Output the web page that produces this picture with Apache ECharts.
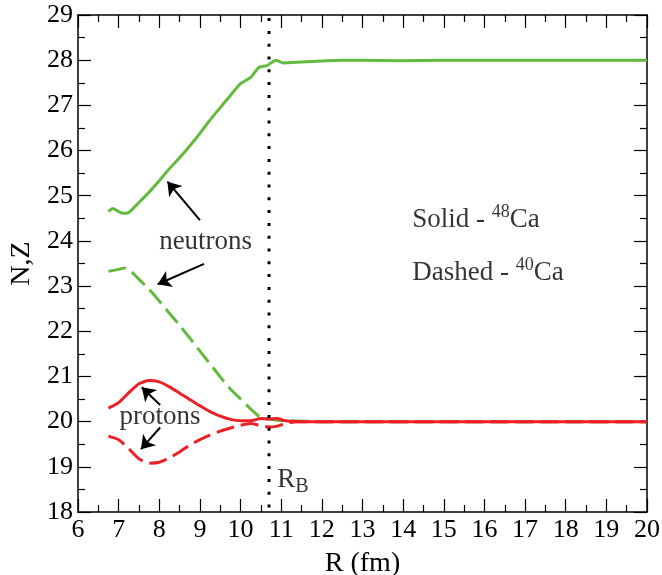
<!DOCTYPE html>
<html>
<head>
<meta charset="utf-8">
<script src="https://cdn.jsdelivr.net/npm/echarts@6/dist/echarts.min.js"></script>
<style>
html, body { margin: 0; padding: 0; background: #fff; }
#main { width: 662px; height: 575px; }
</style>
</head>
<body>
<div id="main"></div>
<script>
// 48Ca neutrons (solid green)
var nx48 = [6.75, 6.85, 7.0, 7.1, 7.25, 7.5, 7.75, 8.0, 8.25, 8.5, 8.75, 9.0, 9.25, 9.5, 9.75, 10.0, 10.25, 10.45, 10.65, 10.87, 11.05, 11.5, 12.0, 12.5, 13.0, 14, 15, 16, 17, 18, 19, 20];
var ny48 = [24.65, 24.72, 24.65, 24.61, 24.63, 24.85, 25.08, 25.33, 25.6, 25.84, 26.1, 26.38, 26.68, 26.95, 27.22, 27.48, 27.62, 27.84, 27.88, 28.0, 27.94, 27.96, 27.98, 28.0, 28.0, 27.99, 28.0, 28.0, 28.0, 28.0, 28.0, 28.0];
// 40Ca neutrons (dashed green)
var nx40 = [6.75, 7.0, 7.15, 7.3, 7.5, 7.75, 8.0, 8.25, 8.5, 8.75, 9.0, 9.25, 9.5, 9.75, 10.0, 10.25, 10.45, 10.6, 10.75, 10.9, 11.2, 12, 20];
var ny40 = [23.33, 23.37, 23.4, 23.33, 23.15, 22.93, 22.67, 22.4, 22.13, 21.85, 21.56, 21.28, 20.99, 20.72, 20.5, 20.28, 20.12, 20.07, 20.05, 20.03, 20.02, 20.0, 20.0];
// 48Ca protons (solid red)
var px48 = [6.75, 7.0, 7.25, 7.5, 7.75, 8.0, 8.25, 8.5, 8.75, 9.0, 9.25, 9.5, 9.75, 10.0, 10.25, 10.5, 10.7, 10.9, 11.1, 11.5, 20];
var py48 = [20.3, 20.42, 20.64, 20.84, 20.91, 20.88, 20.77, 20.63, 20.49, 20.35, 20.22, 20.12, 20.05, 20.02, 20.02, 20.07, 20.06, 20.07, 20.02, 20.0, 20.0];
// 40Ca protons (dashed red)
var px40 = [6.75, 7.0, 7.25, 7.5, 7.75, 8.0, 8.25, 8.5, 8.75, 9.0, 9.25, 9.5, 9.75, 10.0, 10.25, 10.5, 10.7, 10.9, 11.1, 11.4, 20];
var py40 = [19.68, 19.6, 19.4, 19.18, 19.08, 19.1, 19.2, 19.33, 19.48, 19.6, 19.7, 19.79, 19.86, 19.92, 19.96, 19.91, 19.88, 19.9, 19.96, 20.0, 20.0];

var rB = 10.7;
var xRange = [6, 20];
var yRange = [18, 29];

// annotation arrows: [fromX, fromY, toX, toY]
var arrows = [
    [9.00, 24.46, 8.20, 25.31],
    [9.10, 23.49, 7.96, 23.04],
    [8.02, 20.37, 7.57, 20.76],
    [8.02, 19.87, 7.55, 19.39]
];
// centred labels
var midLabels = [
    ['neutrons', 9.14, 23.98],
    ['protons', 8.02, 20.11]
];
// left-aligned labels
var leftLabels = [
    ['Solid - {sup|48}Ca', 14.21, 24.46],
    ['Dashed - {sup|40}Ca', 14.21, 23.29],
    ['R{sub|B}', 10.89, 18.71]
];

var FONT = 'Liberation Serif';
var GREEN = '#62bb3e';
var RED = '#ec2027';

function pairs(xs, ys) {
    return xs.map(function (x, i) { return [x, ys[i]]; });
}

var chart = echarts.init(document.getElementById('main'));

function makeAxis(pos, range, showLabel, name) {
    return {
        type: 'value',
        position: pos,
        min: range[0],
        max: range[1],
        interval: 1,
        name: name || '',
        nameLocation: 'middle',
        nameTextStyle: {color: '#000', fontFamily: FONT, fontSize: 28},
        axisLine: {show: true, onZero: false, lineStyle: {color: '#000', width: 1.5}},
        axisTick: {show: true, inside: true, length: 13, lineStyle: {color: '#000', width: 1.2}},
        minorTick: {show: true, splitNumber: 2, length: 7, lineStyle: {color: '#000', width: 1.2}},
        splitLine: {show: false},
        axisLabel: {show: showLabel, color: '#000', fontFamily: FONT, fontSize: 26, margin: 5}
    };
}

var xBottom = makeAxis('bottom', xRange, true, 'R (fm)');
xBottom.nameGap = 38;
var yLeft = makeAxis('left', yRange, true, 'N,Z');
yLeft.nameGap = 37;

var series = [
    {type: 'line', data: pairs(nx48, ny48), showSymbol: false, smooth: 0.2,
        lineStyle: {color: GREEN, width: 3}},
    {type: 'line', data: pairs(nx40, ny40), showSymbol: false, smooth: 0.2,
        lineStyle: {color: GREEN, width: 3, type: [18, 7]}},
    {type: 'line', data: pairs(px48, py48), showSymbol: false, smooth: 0.2,
        lineStyle: {color: RED, width: 3}},
    {type: 'line', data: pairs(px40, py40), showSymbol: false, smooth: 0.2,
        lineStyle: {color: RED, width: 3, type: [18, 7]}},
    {type: 'line', data: [[rB, 18.1], [rB, 28.95]], showSymbol: false,
        lineStyle: {color: '#000', width: 3, type: [3, 9.8]}},
    {type: 'scatter', data: [], silent: true,
        markLine: {
            silent: true,
            symbol: ['none', 'arrow'],
            symbolSize: 13,
            label: {show: false},
            itemStyle: {color: '#000'},
            lineStyle: {color: '#000', width: 2, type: 'solid'},
            data: arrows.map(function (a) {
                return [{coord: [a[0], a[1]]}, {coord: [a[2], a[3]]}];
            })
        }},
    {type: 'scatter', symbolSize: 1, silent: true,
        itemStyle: {color: 'rgba(0,0,0,0)'},
        data: midLabels.map(function (l) {
            return {value: [l[1], l[2]], label: {formatter: l[0]}};
        }),
        label: {show: true, position: 'inside', color: '#000', textBorderWidth: 0,
            fontFamily: FONT, fontSize: 27}},
    {type: 'scatter', symbolSize: 1, silent: true,
        itemStyle: {color: 'rgba(0,0,0,0)'},
        data: leftLabels.map(function (l) {
            return {value: [l[1], l[2]], label: {formatter: l[0]}};
        }),
        label: {
            show: true, position: 'right', distance: 0, align: 'left', verticalAlign: 'middle',
            color: '#000', textBorderWidth: 0, fontFamily: FONT, fontSize: 27,
            rich: {
                sup: {fontFamily: FONT, fontSize: 18, color: '#000', verticalAlign: 'top', padding: [0, 0, 16, 0]},
                sub: {fontFamily: FONT, fontSize: 20, color: '#000', verticalAlign: 'bottom', padding: [14, 0, 0, 0]}
            }
        }}
];

var option = {
    animation: false,
    backgroundColor: '#fff',
    grid: {left: 78, right: 15, top: 15, bottom: 63, outerBoundsMode: 'none'},
    xAxis: [xBottom, makeAxis('top', xRange, false)],
    yAxis: [yLeft, makeAxis('right', yRange, false)],
    series: series
};

if (option && typeof option === 'object') {
    chart.setOption(option);
}
</script>
</body>
</html>
